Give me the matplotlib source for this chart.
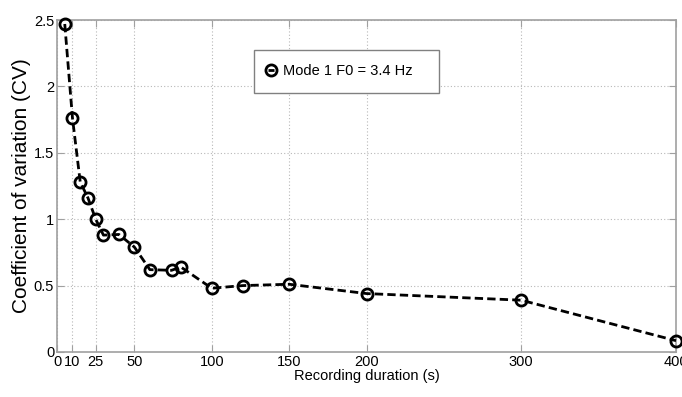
import numpy as np
import matplotlib
matplotlib.use('Agg')
import matplotlib.pyplot as plt

plt.rcParams['font.family'] = ['Liberation Sans', 'DejaVu Sans']

# recording duration (s) and coefficient of variation
duration = [5, 10, 15, 20, 25, 30, 40, 50, 60, 74, 80, 100, 120, 150, 200, 300, 400]
cv = [2.47, 1.76, 1.28, 1.16, 1.0, 0.88, 0.885, 0.79, 0.62, 0.615, 0.64,
      0.48, 0.50, 0.51, 0.44, 0.39, 0.085]
xticks = [0, 10, 25, 50, 100, 150, 200, 300, 400]
yticks = [0, 0.5, 1, 1.5, 2, 2.5]

fig = plt.figure(figsize=(6.82, 3.97), dpi=100)
ax = fig.add_axes([0.0836, 0.1134, 0.9076, 0.8362])

ax.plot(duration, cv, 'k--o', lw=2, ms=8, mew=2, mfc='none',
        dashes=(3, 1.5), label='Mode 1 F0 = 3.4 Hz', clip_on=False, zorder=3)

ax.set_xlim(0, 400)
ax.set_ylim(0, 2.5)
ax.set_xticks(xticks)
ax.set_yticks(yticks)
ax.set_yticklabels(['0', '0.5', '1', '1.5', '2', '2.5'])
ax.grid(True, ls=(0, (1, 2)), color='#b8b8b8', lw=0.8)
ax.tick_params(direction='in', top=True, right=True, color='#a0a0a0',
               labelsize=10.5, length=5, pad=2)
for s in ax.spines.values():
    s.set_color('#a0a0a0')
    s.set_linewidth(1.2)

ax.set_xlabel('Recording duration (s)', fontsize=10.5, labelpad=0)
ax.set_ylabel('Coefficient of variation (CV)', fontsize=15, labelpad=2)

leg = ax.legend(loc='center left', bbox_to_anchor=(0.318, 0.777, 0.299, 0.136),
                mode='expand', fontsize=10.5, handlelength=0.4, handletextpad=0.6,
                borderpad=1.0, fancybox=False, framealpha=1, borderaxespad=0)
leg.get_frame().set_edgecolor('#808080')
leg.get_frame().set_linewidth(1.0)

plt.savefig('out.png', dpi=100)
